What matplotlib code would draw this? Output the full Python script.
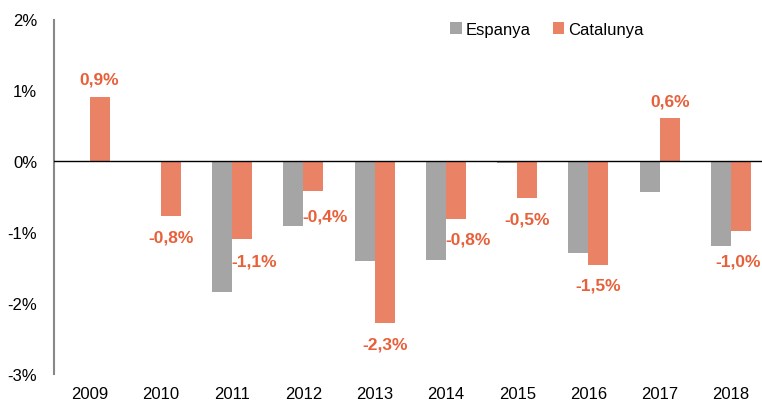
import numpy as np
import matplotlib
matplotlib.use("Agg")
import matplotlib.pyplot as plt

years = ["2009", "2010", "2011", "2012", "2013", "2014", "2015", "2016", "2017", "2018"]
espanya = [np.nan, np.nan, -1.85, -0.91, -1.40, -1.39, -0.02, -1.29, -0.43, -1.19]
catalunya = [0.90, -0.77, -1.10, -0.42, -2.28, -0.82, -0.52, -1.46, 0.61, -0.99]
cat_labels = ["0,9%", "-0,8%", "-1,1%", "-0,4%", "-2,3%", "-0,8%", "-0,5%", "-1,5%", "0,6%", "-1,0%"]
yticks = [-3, -2, -1, 0, 1, 2]
ytick_labels = ["-3%", "-2%", "-1%", "0%", "1%", "2%"]

# label offsets in pixels (dx, dy) relative to bar end
label_offsets = [(0, 18), (0, -21), (12, -22), (12, -25), (0, -21), (12, -20), (0, -21), (0, -20), (0, 17), (-3, -30)]

plt.rcParams['font.family'] = ['Liberation Sans', 'DejaVu Sans']

GRAY = "#A5A5A5"
ORANGE = "#EA8266"
LABEL = "#E8603A"

fig = plt.figure(figsize=(7.62, 4.02), dpi=100)
ax = fig.add_axes([54 / 762, 1 - 375 / 402, 1 - 54 / 762, (375 - 20.5) / 402])

x = np.arange(len(years))
w = 0.281
ax.bar(x - w / 2, espanya, width=w, color=GRAY, label="Espanya", zorder=2)
bars = ax.bar(x + w / 2, catalunya, width=w, color=ORANGE, label="Catalunya", zorder=2)

for i, (b, lab) in enumerate(zip(bars, cat_labels)):
    v = catalunya[i]
    dx, dy = label_offsets[i]
    ax.annotate(lab, (b.get_x() + b.get_width() / 2, v), xytext=(dx, dy),
                textcoords="offset pixels", ha="center", va="center",
                color=LABEL, fontsize=12.5, fontweight="bold")

ax.axhline(0, color="black", lw=1, zorder=3)
ax.set_ylim(-3, 2)
ax.set_xlim(-0.5, 9.435)
ax.set_yticks(yticks)
ax.set_yticklabels(ytick_labels)
ax.set_xticks(x)
ax.set_xticklabels(years)
ax.tick_params(axis="both", length=0, labelsize=12)
ax.tick_params(axis="x", pad=8.5)
ax.tick_params(axis="y", pad=12)
for s in ["top", "right", "bottom"]:
    ax.spines[s].set_visible(False)
ax.spines["left"].set_color("#888888")
ax.spines["left"].set_linewidth(1.5)

fig.legend(loc="center", bbox_to_anchor=(547 / 762, 1 - 30 / 402), ncol=2, frameon=False,
           fontsize=12, handlelength=0.7, handleheight=0.7, handletextpad=0.25,
           columnspacing=1.3)

fig.savefig("out.png", dpi=100)
